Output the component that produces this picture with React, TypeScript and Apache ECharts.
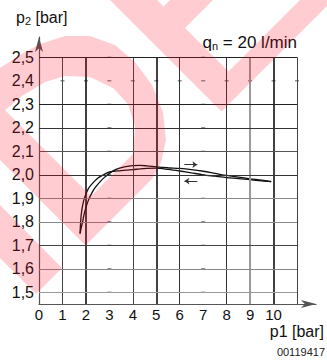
import { useEffect, useRef } from 'react';
import * as echarts from 'echarts';

// ---- data ----
const xTickValues = [0, 1, 2, 3, 4, 5, 6, 7, 8, 9, 10];
const yTickValues = [1.5, 1.6, 1.7, 1.8, 1.9, 2.0, 2.1, 2.2, 2.3, 2.4, 2.5];

// p1 increasing (upper branch on the right)
const risingP1 = [1.75, 1.8, 1.86, 1.92, 2.0, 2.1, 2.25, 2.4, 2.6, 2.8, 3.0, 3.2, 3.4, 3.7, 4.0, 4.3, 4.6, 5.0, 5.5, 6.0, 6.5, 7.0, 7.5, 8.0, 8.5, 9.0, 9.5, 9.9];
const risingP2 = [1.75, 1.775, 1.8, 1.83, 1.86, 1.89, 1.922, 1.946, 1.97, 1.99, 2.006, 2.019, 2.027, 2.035, 2.039, 2.04, 2.038, 2.034, 2.03, 2.027, 2.022, 2.015, 2.006, 1.997, 1.99, 1.983, 1.977, 1.971];
// p1 decreasing (lower branch on the right)
const fallingP1 = [9.9, 9.5, 9.0, 8.5, 8.0, 7.5, 7.0, 6.5, 6.0, 5.5, 5.0, 4.6, 4.3, 4.0, 3.7, 3.4, 3.2, 3.0, 2.75, 2.5, 2.25, 2.1, 1.95, 1.86, 1.8, 1.77, 1.75];
const fallingP2 = [1.971, 1.974, 1.979, 1.984, 1.988, 1.994, 2.0, 2.008, 2.016, 2.023, 2.028, 2.027, 2.025, 2.022, 2.02, 2.017, 2.015, 2.012, 2.0, 1.985, 1.96, 1.94, 1.905, 1.87, 1.83, 1.79, 1.75];

// direction arrows [fromP1, toP1, p2]
const arrowUp = [6.2, 6.75, 2.043];
const arrowDown = [6.75, 6.2, 1.973];

// grid lines drawn in the original drawing
const gridX = [1, 2, 4, 5, 6, 8, 9, 10, 11];
const gridY = [1.5, 1.6, 1.7, 1.8, 1.9, 2.0, 2.1, 2.2, 2.3, 2.5];
const missingX = [3, 7];
const missingY = [2.4];

const X_MIN = 0;
const X_END = 11;
const Y_MIN = 1.45;
const Y_END = 2.5;

// ---- styles ----
const vStyle: Record<number, [string, number]> = {
  1: ['#444', 1], 2: ['#111', 1.6], 4: ['#444', 1], 5: ['#111', 1.6], 6: ['#333', 1],
  8: ['#333', 1], 9: ['#9a9a9a', 2], 10: ['#111', 1.6], 11: ['#444', 1],
};
const hStyle: Record<string, [string, number]> = {
  '1.5': ['#999', 1], '1.6': ['#888', 1], '1.7': ['#444', 1], '1.8': ['#888', 1], '1.9': ['#888', 1],
  '2': ['#333', 1], '2.1': ['#555', 1], '2.2': ['#333', 1], '2.3': ['#222', 1], '2.5': ['#222', 1],
};

const WM_PATH =
  'M0,205 L62,268 L36,294 L0,258 Z ' +
  'M0,68 L20,55 L40,44 L65,36 L90,36 L115,45 L135,62 L152,85 L163,112 L166,140 L161,163 L152,179 L85.5,245.5 L0,160 Z ' +
  'M5,110 L91,196 L133,154 L135,127 L128,104 L113,88 L90,77 L65,76 L45,82 L22,96 Z ' +
  'M110,0 L221.5,111.5 L327,6 L327,0 L300,0 L228.5,71.5 L185,28 L213,0 L170,0 L163.5,6.5 L157,0 Z';

let registered = false;
function ensureShape() {
  if (registered) return;
  registered = true;
  echarts.graphic.registerShape('pdfWatermark', echarts.graphic.extendPath(WM_PATH, {}) as any);
}

const FONT = 'Liberation Sans';

export default function App() {
  const ref = useRef<HTMLDivElement>(null);

  useEffect(() => {
    if (!ref.current) return;
    ensureShape();
    const chart = echarts.init(ref.current, undefined, { renderer: 'svg' });

    const rising = risingP1.map((x, i) => [x, risingP2[i]]);
    const falling = fallingP1.map((x, i) => [x, fallingP2[i]]);

    const gridLines: any[] = [];
    gridX.forEach((x) => {
      const s = vStyle[x] || ['#444', 1];
      gridLines.push([
        { coord: [x, Y_MIN], lineStyle: { color: s[0], width: s[1], type: 'solid' } },
        { coord: [x, Y_END] },
      ]);
    });
    gridY.forEach((y) => {
      const s = hStyle[String(y)] || ['#444', 1];
      gridLines.push([
        { coord: [X_MIN, y], lineStyle: { color: s[0], width: s[1], type: 'solid' } },
        { coord: [X_END, y] },
      ]);
    });

    const dots: number[][] = [];
    missingX.forEach((x) => gridY.forEach((y) => dots.push([x, y])));
    missingY.forEach((y) => {
      for (let x = 1; x <= X_END; x++) dots.push([x, y]);
    });

    const option: any = {
      animation: false,
      backgroundColor: '#ffffff',
      grid: { left: 39, right: 11, top: 37, bottom: 56 },
      xAxis: {
        type: 'value',
        min: 0,
        max: 11.81,
        interval: 1,
        axisLine: {
          show: true,
          onZero: false,
          symbol: ['none', 'arrow'],
          symbolSize: [6, 15],
          lineStyle: { color: '#555', width: 1.2 },
        },
        axisTick: { show: false },
        splitLine: { show: false },
        axisLabel: {
          margin: 3,
          fontFamily: FONT,
          fontSize: 15,
          color: '#111',
          formatter: (v: number) => (xTickValues.includes(v) ? String(v) : ''),
        },
      },
      yAxis: {
        type: 'value',
        min: 1.45,
        max: 2.5864,
        interval: 0.05,
        axisLine: {
          show: true,
          onZero: false,
          symbol: ['none', 'arrow'],
          symbolSize: [6, 15],
          lineStyle: { color: '#555', width: 1.2 },
        },
        axisTick: { show: false },
        splitLine: { show: false },
        axisLabel: {
          margin: 5,
          fontFamily: FONT,
          fontSize: 16,
          color: '#111',
          formatter: (v: number) => {
            const r = Math.round(v * 100);
            const hit = yTickValues.some((t) => Math.round(t * 100) === r);
            return hit ? (r / 100).toFixed(1).replace('.', ',') : '';
          },
        },
      },
      series: [
        {
          name: 'grid',
          type: 'line',
          data: [],
          z: 1,
          silent: true,
          markLine: {
            silent: true,
            symbol: ['none', 'none'],
            label: { show: false },
            emphasis: { disabled: true },
            animation: false,
            data: gridLines,
          },
        },
        {
          name: 'marks',
          type: 'scatter',
          data: dots,
          symbol: 'rect',
          symbolSize: [4, 1.2],
          itemStyle: { color: '#555' },
          silent: true,
          z: 2,
        },
        {
          name: 'rising',
          type: 'line',
          data: rising,
          showSymbol: false,
          smooth: 0.3,
          lineStyle: { color: '#111', width: 1.3 },
          silent: true,
          z: 3,
          markLine: {
            silent: true,
            symbol: ['none', 'arrow'],
            symbolSize: 5,
            label: { show: false },
            emphasis: { disabled: true },
            lineStyle: { color: '#333', width: 1, type: 'solid' },
            data: [[{ coord: [arrowUp[0], arrowUp[2]] }, { coord: [arrowUp[1], arrowUp[2]] }]],
          },
        },
        {
          name: 'falling',
          type: 'line',
          data: falling,
          showSymbol: false,
          smooth: 0.3,
          lineStyle: { color: '#111', width: 1.3 },
          silent: true,
          z: 3,
          markLine: {
            silent: true,
            symbol: ['none', 'arrow'],
            symbolSize: 5,
            label: { show: false },
            emphasis: { disabled: true },
            lineStyle: { color: '#333', width: 1, type: 'solid' },
            data: [[{ coord: [arrowDown[0], arrowDown[2]] }, { coord: [arrowDown[1], arrowDown[2]] }]],
          },
        },
      ],
      graphic: [
        {
          type: 'text',
          x: 16,
          y: 17,
          z: 50,
          silent: true,
          style: {
            text: '{a|p}{s|2}{a| [bar]}',
            align: 'left',
            verticalAlign: 'middle',
            textAlign: 'left',
            textVerticalAlign: 'middle',
            rich: {
              a: { fontFamily: FONT, fontSize: 16, fill: '#111', color: '#111', lineHeight: 18 },
              s: { fontFamily: FONT, fontSize: 11, fill: '#111', color: '#111', lineHeight: 18, verticalAlign: 'bottom' },
            },
          },
        },
        {
          type: 'text',
          x: 297,
          y: 42,
          z: 50,
          silent: true,
          style: {
            text: '{a|q}{s|n}{a| = 20 l/min}',
            align: 'right',
            verticalAlign: 'middle',
            textAlign: 'right',
            textVerticalAlign: 'middle',
            rich: {
              a: { fontFamily: FONT, fontSize: 17, fill: '#111', color: '#111', lineHeight: 19 },
              s: { fontFamily: FONT, fontSize: 11, fill: '#111', color: '#111', lineHeight: 19, verticalAlign: 'bottom' },
            },
          },
        },
        {
          type: 'text',
          x: 324,
          y: 331,
          z: 50,
          silent: true,
          style: {
            text: 'p1 [bar]',
            fontFamily: FONT,
            fontSize: 16,
            fill: '#111',
            align: 'right',
            verticalAlign: 'middle',
            textAlign: 'right',
            textVerticalAlign: 'middle',
          },
        },
        {
          type: 'text',
          x: 325,
          y: 352,
          z: 50,
          silent: true,
          style: {
            text: '00119417',
            fontFamily: FONT,
            fontSize: 11,
            fill: '#222',
            align: 'right',
            verticalAlign: 'middle',
            textAlign: 'right',
            textVerticalAlign: 'middle',
          },
        },
        {
          type: 'pdfWatermark',
          x: 0,
          y: 0,
          z: 100,
          silent: true,
          style: { fill: 'rgba(255,0,30,0.2)' },
        },
      ],
    };

    chart.setOption(option);
    return () => chart.dispose();
  }, []);

  return (
    <div
      ref={ref}
      style={{ position: 'fixed', left: 0, top: 0, width: 327, height: 360, background: '#fff' }}
    />
  );
}
